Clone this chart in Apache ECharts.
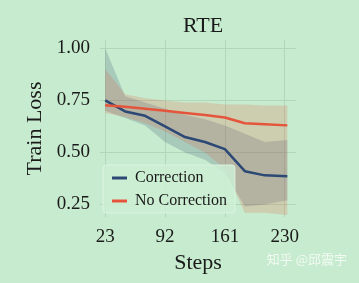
<!DOCTYPE html>
<html>
<head>
<meta charset="utf-8">
<script src="https://cdn.jsdelivr.net/npm/echarts@6/dist/echarts.min.js"></script>
<style>
html,body{margin:0;padding:0;background:#c7ebce;}
#chart{width:359px;height:283px;}
</style>
</head>
<body>
<div id="chart"></div>
<script>
// steps on x axis
var steps = [23, 46, 69, 92, 115, 138, 161, 184, 207, 233];
var xTicks = [23, 92, 161, 230];
var yTicks = [0.25, 0.50, 0.75, 1.00];

// mean train loss
var correction   = [0.750, 0.697, 0.676, 0.625, 0.574, 0.550, 0.516, 0.410, 0.390, 0.386];
var noCorrection = [0.727, 0.720, 0.710, 0.700, 0.690, 0.680, 0.668, 0.640, 0.636, 0.630];

// shaded ranges
var correctionLow   = [0.700, 0.665, 0.630, 0.550, 0.500, 0.465, 0.400, 0.240, 0.250, 0.270];
var correctionHigh  = [1.000, 0.770, 0.740, 0.710, 0.680, 0.660, 0.630, 0.590, 0.550, 0.560];
var noCorrectionLow  = [0.690, 0.670, 0.640, 0.600, 0.550, 0.500, 0.420, 0.210, 0.210, 0.200];
var noCorrectionHigh = [0.900, 0.780, 0.760, 0.750, 0.740, 0.740, 0.730, 0.730, 0.725, 0.725];

var blue = '#2c4875';
var red = '#e4553c';
var gridColor = '#b3d5b9';
var serif = '"Liberation Serif", "DejaVu Serif", serif';

function pairs(ys){
	var out = [];
	for(var i=0; i<steps.length; i++){
		out.push([steps[i], ys[i]]);
	}
	return out;
}

// band drawn as one polygon, points go through the axis scales (api.coord)
function band(name, lo, hi, color){
	var data = [];
	for(var i=0; i<steps.length; i++){
		data.push([steps[i], lo[i], hi[i]]);
	}
	return {
		name:name, type:'custom', data:data, silent:true, z:1,
		encode:{x:0, y:[1,2]},
		renderItem:function(params, api){
			if(params.dataIndex !== 0) return null;
			var pts = [];
			for(var i=0; i<data.length; i++){
				pts.push(api.coord([data[i][0], data[i][2]]));
			}
			for(var j=data.length-1; j>=0; j--){
				pts.push(api.coord([data[j][0], data[j][1]]));
			}
			return {type:'polygon', shape:{points:pts}, style:{fill:color}};
		}
	};
}

var myChart = echarts.init(document.getElementById('chart'));
var option = {
	backgroundColor:'#c7ebce',
	animation:false,
	title:{
		text:'RTE', left:198, textAlign:'center', top:10,
		textStyle:{fontFamily:serif, fontSize:22, fontWeight:'normal', color:'#1a1a1a'}
	},
	legend:{
		orient:'vertical', left:103, top:165,
		data:['Correction', 'No Correction'],
		icon:'rect', itemWidth:15, itemHeight:3, itemGap:7,
		padding:[5, 8, 4, 9],
		backgroundColor:'rgba(205,238,211,0.85)',
		borderColor:'rgba(222,244,226,0.9)', borderWidth:1, borderRadius:3,
		textStyle:{fontFamily:serif, fontSize:16, color:'#1a1a1a', lineHeight:16, padding:[0,0,0,3]}
	},
	grid:{left:100, right:63, top:40, bottom:66},
	xAxis:{
		type:'value', min:17, max:243,
		name:'Steps', nameLocation:'middle', nameGap:35,
		nameTextStyle:{fontFamily:serif, fontSize:22, color:'#1a1a1a'},
		axisLine:{show:false},
		axisTick:{show:false, customValues:xTicks},
		axisLabel:{customValues:xTicks, margin:11, fontFamily:serif, fontSize:19, color:'#1a1a1a'},
		splitLine:{show:true, lineStyle:{color:gridColor, width:1}}
	},
	yAxis:{
		type:'value', min:0.19, max:1.04,
		name:'Train Loss', nameLocation:'middle', nameGap:47,
		nameTextStyle:{fontFamily:serif, fontSize:22, color:'#1a1a1a'},
		axisLine:{show:false},
		axisTick:{show:false, customValues:yTicks},
		axisLabel:{customValues:yTicks, margin:10, fontFamily:serif, fontSize:19, color:'#1a1a1a',
			formatter:function(v){ return v.toFixed(2); }},
		splitLine:{show:true, lineStyle:{color:gridColor, width:1}}
	},
	graphic:[{
		type:'text', right:12, top:253, silent:true,
		style:{text:'知乎 @邱震宇', fill:'rgba(255,255,255,0.75)', fontSize:13,
			fontFamily:'"Noto Sans CJK SC", sans-serif'}
	}],
	series:[
		band('cBand', correctionLow, correctionHigh, 'rgba(44,72,117,0.2)'),
		band('nBand', noCorrectionLow, noCorrectionHigh, 'rgba(228,85,60,0.2)'),
		{
			name:'Correction', type:'line', data:pairs(correction),
			symbol:'none', color:blue, lineStyle:{color:blue, width:2.5}, z:3
		},{
			name:'No Correction', type:'line', data:pairs(noCorrection),
			symbol:'none', color:red, lineStyle:{color:red, width:2.5}, z:3
		}
	]
};
myChart.setOption(option);
</script>
</body>
</html>
